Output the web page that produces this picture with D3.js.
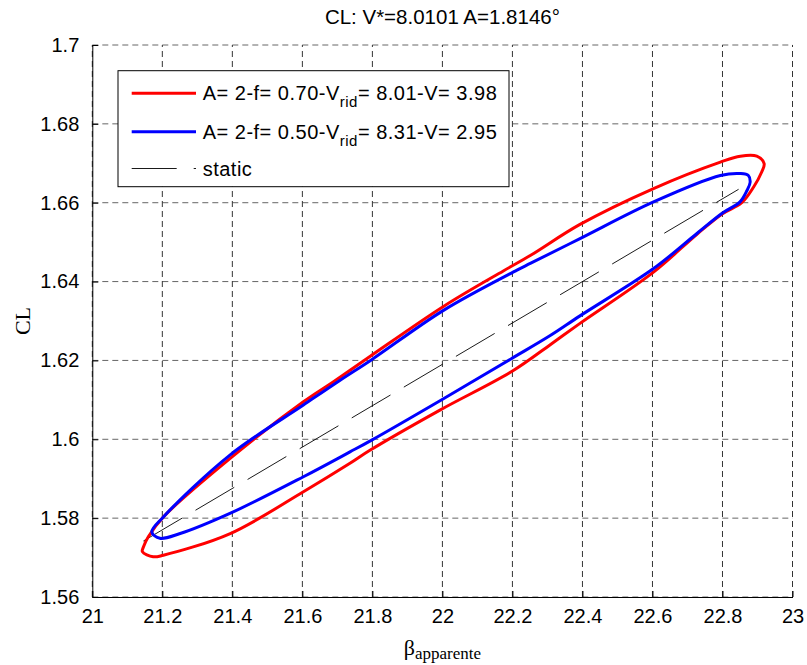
<!DOCTYPE html>
<html><head><meta charset="utf-8">
<script src="https://cdn.jsdelivr.net/npm/d3@7/dist/d3.min.js"></script>
<style>body{margin:0;background:#fff}svg{display:block}</style>
</head><body>
<svg id="c" width="807" height="665"></svg>
<script>
// ---- data ----
const xTicks = [21, 21.2, 21.4, 21.6, 21.8, 22, 22.2, 22.4, 22.6, 22.8, 23];
const yTicks = [1.56, 1.58, 1.6, 1.62, 1.64, 1.66, 1.68, 1.7];
const titleText = "CL: V*=8.0101 A=1.8146°";
const redBeta = [21.146, 21.160, 21.203, 21.393, 21.603, 21.689, 21.793, 22.003, 22.174, 22.251, 22.393, 22.603, 22.794, 22.851, 22.898, 22.919, 22.912, 22.889, 22.855, 22.800, 22.727, 22.603, 22.393, 22.308, 22.198, 21.993, 21.793, 21.736, 21.603, 21.394, 21.203, 21.174, 21.143];
const redCL   = [1.5727, 1.5753, 1.5803, 1.5951, 1.6095, 1.6146, 1.6210, 1.6337, 1.6427, 1.6466, 1.6545, 1.6636, 1.6703, 1.6718, 1.6718, 1.6699, 1.6678, 1.6640, 1.6600, 1.6572, 1.6520, 1.6424, 1.6294, 1.6240, 1.6172, 1.6074, 1.5972, 1.5939, 1.5867, 1.5761, 1.5706, 1.5702, 1.5715];
const blueBeta = [21.170, 21.203, 21.393, 21.603, 21.708, 21.798, 22.003, 22.213, 22.251, 22.393, 22.603, 22.794, 22.851, 22.874, 22.879, 22.870, 22.850, 22.800, 22.727, 22.603, 22.393, 22.308, 22.198, 22.003, 21.798, 21.736, 21.603, 21.393, 21.251, 21.193];
const blueCL   = [1.5765, 1.5803, 1.5960, 1.6087, 1.6150, 1.6202, 1.6327, 1.6429, 1.6446, 1.6509, 1.6602, 1.6669, 1.6674, 1.6669, 1.6652, 1.6631, 1.6602, 1.6574, 1.6522, 1.6433, 1.6313, 1.6263, 1.6205, 1.6103, 1.5998, 1.5968, 1.5905, 1.5812, 1.5761, 1.5749];
const staticBeta = [21.146, 22.846];
const staticCL   = [1.5742, 1.6634];
const legendLabels = [
  {pre: "A= 2-f= 0.70-V", sub: "rid", post: "= 8.01-V= 3.98"},
  {pre: "A= 2-f= 0.50-V", sub: "rid", post: "= 8.31-V= 2.95"},
  {pre: "static", sub: "", post: ""}
];

// ---- layout ----
const L = 92.3, R = 792.5, T = 45, B = 597;
const svg = d3.select("#c");
const x = d3.scaleLinear().domain([21, 23]).range([L, R]);
const y = d3.scaleLinear().domain([1.56, 1.7]).range([B, T]);
const sans = "'Liberation Sans', Arial, sans-serif";
const serif = "'Liberation Serif', 'Times New Roman', serif";

// grid
svg.append("g").selectAll("line").data(yTicks).join("line")
  .attr("x1", L).attr("x2", R).attr("y1", d => y(d)).attr("y2", d => y(d))
  .attr("stroke", "#666").attr("stroke-width", 1).attr("stroke-dasharray", "6,4");
svg.append("g").selectAll("line").data(xTicks).join("line")
  .attr("x1", d => x(d)).attr("x2", d => x(d)).attr("y1", B).attr("y2", T)
  .attr("stroke", "#333").attr("stroke-width", 1).attr("stroke-dasharray", "6,4");

// axes
const xAxis = d3.axisBottom(x).tickValues(xTicks).tickSizeInner(-6).tickSizeOuter(0).tickPadding(12)
  .tickFormat(d3.format("~g"));
const yAxis = d3.axisLeft(y).tickValues(yTicks).tickSizeInner(-6).tickSizeOuter(0).tickPadding(13)
  .tickFormat(d3.format("~g"));
const gx = svg.append("g").attr("transform", `translate(0,${B})`).call(xAxis);
const gy = svg.append("g").attr("transform", `translate(${L},0)`).call(yAxis);
[gx, gy].forEach(g => {
  g.selectAll("path").attr("stroke", "#000");
  g.selectAll("line").attr("stroke", "#000");
  g.selectAll("text").attr("font-family", sans).attr("font-size", 20).attr("fill", "#000");
});

// curves
const line = d3.line().x(d => x(d[0])).y(d => y(d[1])).curve(d3.curveCatmullRomClosed.alpha(0.5));
const redPts = redBeta.map((b, i) => [b, redCL[i]]);
const bluePts = blueBeta.map((b, i) => [b, blueCL[i]]);
const stPts = staticBeta.map((b, i) => [b, staticCL[i]]);
svg.append("path").datum(stPts).attr("d", d3.line().x(d => x(d[0])).y(d => y(d[1])))
  .attr("fill", "none").attr("stroke", "#000").attr("stroke-width", 0.9).attr("stroke-dasharray", "45,15.5");
svg.append("path").datum(redPts).attr("d", line).attr("fill", "none").attr("stroke", "#ff0000").attr("stroke-width", 3);
svg.append("path").datum(bluePts).attr("d", line).attr("fill", "none").attr("stroke", "#0000ff").attr("stroke-width", 3);

// legend
const lg = svg.append("g");
lg.append("rect").attr("x", 118).attr("y", 70.7).attr("width", 391).attr("height", 116)
  .attr("fill", "#fff").attr("stroke", "#000").attr("stroke-width", 1);
const rowsY = [93.3, 131.7, 168.5];
const styles = [
  {stroke: "#ff0000", w: 3, dash: null},
  {stroke: "#0000ff", w: 3, dash: null},
  {stroke: "#000", w: 0.9, dash: "45,17"}
];
legendLabels.forEach((lab, i) => {
  lg.append("line").attr("x1", 131.7).attr("x2", 196).attr("y1", rowsY[i]).attr("y2", rowsY[i])
    .attr("stroke", styles[i].stroke).attr("stroke-width", styles[i].w).attr("stroke-dasharray", styles[i].dash);
  const t = lg.append("text").attr("x", 202.7).attr("y", rowsY[i] + 7)
    .attr("font-family", sans).attr("font-size", 20).attr("letter-spacing", 0.5).attr("fill", "#000");
  t.append("tspan").text(lab.pre);
  if (lab.sub) {
    t.append("tspan").attr("dy", 7).attr("font-size", 15).text(lab.sub);
    t.append("tspan").attr("dy", -7).text(lab.post);
  }
});

// title & labels
svg.append("text").attr("x", (L + R) / 2).attr("y", 24).attr("text-anchor", "middle")
  .attr("font-family", sans).attr("font-size", 20.5).text(titleText);
const xl = svg.append("text").attr("x", (L + R) / 2).attr("y", 655).attr("text-anchor", "middle")
  .attr("font-family", serif).attr("font-size", 22);
xl.append("tspan").text("β");
xl.append("tspan").attr("dy", 4).attr("font-size", 17).text("apparente");
svg.append("text").attr("transform", `translate(30,${(T + B) / 2}) rotate(-90)`).attr("text-anchor", "middle")
  .attr("font-family", serif).attr("font-size", 22).text("CL");
</script>
</body></html>
